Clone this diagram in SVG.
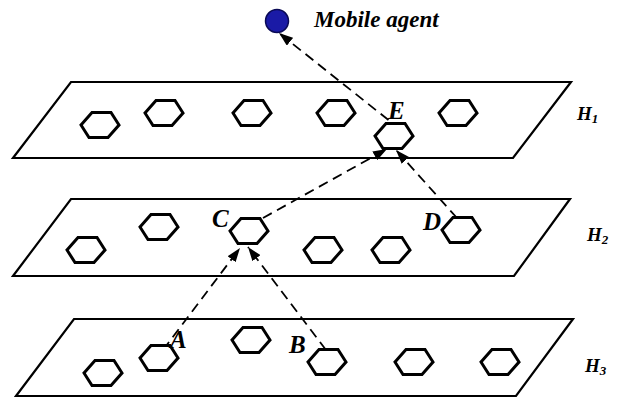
<svg xmlns="http://www.w3.org/2000/svg" width="624" height="399" viewBox="0 0 624 399">
<style>
.plane{fill:none;stroke:#000;stroke-width:2.2;stroke-linejoin:miter}
.hex{fill:#fff;stroke:#000;stroke-width:3;stroke-linejoin:miter}
.conn{fill:none;stroke:#000;stroke-width:1.8;stroke-dasharray:10 6;marker-end:url(#ah)}
.lbl{font-family:"Liberation Serif","Times New Roman",serif;font-style:italic;font-weight:bold;font-size:25px;fill:#000}
.hl{font-family:"Liberation Serif","Times New Roman",serif;font-style:italic;font-weight:bold;font-size:19px;fill:#000}
.hs{font-size:13px}
.ma{font-family:"Liberation Serif","Times New Roman",serif;font-style:italic;font-weight:bold;font-size:23px;fill:#000}
</style>
<defs>
<polygon id="hx" points="-19,0 -8,-12.5 11,-12.5 19,0 8,12.5 -11,12.5"/>
<marker id="ah" markerUnits="userSpaceOnUse" markerWidth="14" markerHeight="10" refX="14" refY="5" orient="auto">
<path d="M0,0 L14,5 L0,10 z" fill="#000"/>
</marker>
</defs>
<rect width="624" height="399" fill="#fff"/>
<g id="plane-H1">
<polygon class="plane" points="71,82 571,82 513,158 13,158"/>
<text class="hl" x="577" y="120">H<tspan class="hs" dy="3">1</tspan></text>
</g>
<g id="plane-H2">
<polygon class="plane" points="71,199 570,199 514,276 13,276"/>
<text class="hl" x="587" y="241">H<tspan class="hs" dy="3">2</tspan></text>
</g>
<g id="plane-H3">
<polygon class="plane" points="74,319 573,319 516,396 16,396"/>
<text class="hl" x="585" y="372">H<tspan class="hs" dy="3">3</tspan></text>
</g>
<g id="nodes-H1">
<use href="#hx" class="hex" x="100" y="125"/>
<use href="#hx" class="hex" x="164" y="113"/>
<use href="#hx" class="hex" x="252" y="113"/>
<use href="#hx" class="hex" x="336" y="113"/>
<use href="#hx" class="hex" x="458" y="113"/>
</g>
<g id="nodes-H2">
<use href="#hx" class="hex" x="86" y="250"/>
<use href="#hx" class="hex" x="159" y="227"/>
<use href="#hx" class="hex" x="323" y="250"/>
<use href="#hx" class="hex" x="391" y="250"/>
</g>
<g id="nodes-H3">
<use href="#hx" class="hex" x="103" y="373"/>
<use href="#hx" class="hex" x="251" y="340"/>
<use href="#hx" class="hex" x="414" y="362"/>
<use href="#hx" class="hex" x="500" y="362"/>
</g>
<g id="connectors">
<line class="conn" x1="401" y1="130" x2="279" y2="33"/>
<line class="conn" x1="263" y1="218" x2="387" y2="149"/>
<line class="conn" x1="457" y1="218" x2="396" y2="150"/>
<line class="conn" x1="163" y1="350" x2="240" y2="248"/>
<line class="conn" x1="326" y1="350" x2="248" y2="247"/>
</g>
<g id="node-E">
<use href="#hx" class="hex" x="394" y="136"/>
<text class="lbl" x="388" y="119">E</text>
</g>
<g id="node-C">
<use href="#hx" class="hex" x="249" y="231"/>
<text class="lbl" x="212" y="227">C</text>
</g>
<g id="node-D">
<use href="#hx" class="hex" x="461" y="230"/>
<text class="lbl" x="423" y="230">D</text>
</g>
<g id="node-A">
<use href="#hx" class="hex" x="159" y="358"/>
<text class="lbl" x="170" y="348">A</text>
</g>
<g id="node-B">
<use href="#hx" class="hex" x="327" y="362"/>
<text class="lbl" x="289" y="353">B</text>
</g>
<g id="mobile-agent">
<circle cx="277" cy="21" r="11.5" fill="#1a1aa6" stroke="#0a0a55" stroke-width="1.5"/>
<text class="ma" x="314" y="27">Mobile agent</text>
</g>
</svg>
